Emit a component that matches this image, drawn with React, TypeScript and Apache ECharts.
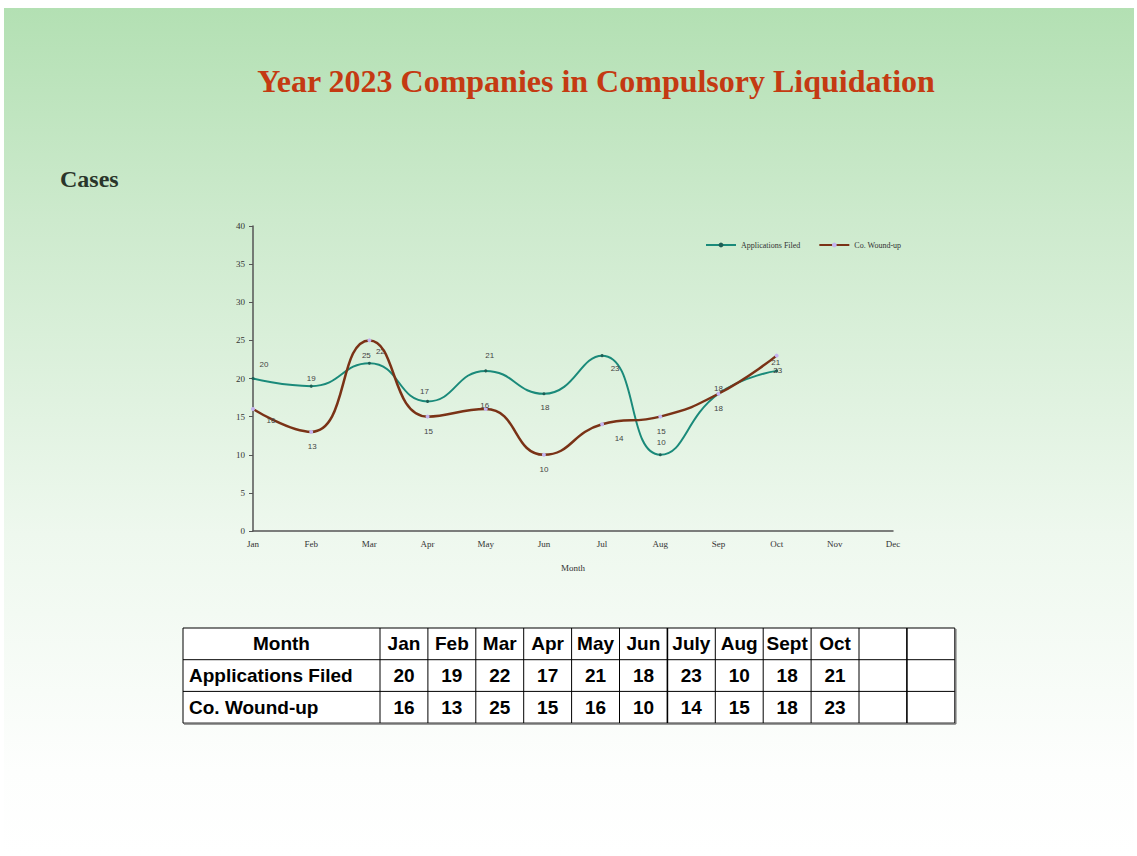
import React, { useEffect, useRef } from "react";
import * as echarts from "echarts";

const axisMonths = ["Jan", "Feb", "Mar", "Apr", "May", "Jun", "Jul", "Aug", "Sep", "Oct", "Nov", "Dec"];
const applicationsFiled = [20, 19, 22, 17, 21, 18, 23, 10, 18, 21];
const coWoundUp = [16, 13, 25, 15, 16, 10, 14, 15, 18, 23];
const tableMonths = ["Jan", "Feb", "Mar", "Apr", "May", "Jun", "July", "Aug", "Sept", "Oct", "", ""];
const yTicks = { min: 0, max: 40, interval: 5 };

// label offsets (styling only)
const appLabelOffsets = [[11, -14], [0, -8], [11, -12], [-3, -10], [4, -15], [1, 14], [13, 13], [1, -12], [0, 15], [-1, -8]];
const woundLabelOffsets = [[18, 11], [1, 15], [-3, 15], [1, 15], [-1, -4], [0, 15], [17, 14], [1, 15], [0, -5], [1, 15]];

const SERIF = "'Liberation Serif', 'Times New Roman', serif";
const SANS = "'Liberation Sans', Arial, sans-serif";

function buildTable() {
  const left = 183;
  const firstW = 197;
  const colW = 47.9;
  const rowTop = 628;
  const rowH = 31.7;
  const rows = [
    { label: "Month", values: tableMonths, header: true },
    { label: "Applications Filed", values: applicationsFiled.map(String), header: false },
    { label: "Co. Wound-up", values: coWoundUp.map(String), header: false },
  ];
  const nCols = tableMonths.length;
  const right = left + firstW + colW * nCols;
  const bottom = rowTop + rowH * rows.length;
  const els: any[] = [];
  els.push({ type: "rect", shape: { x: left, y: rowTop, width: right - left, height: bottom - rowTop }, style: { fill: "#ffffff", stroke: "#000", lineWidth: 1 } });
  for (let r = 1; r < rows.length; r++) {
    const y = rowTop + rowH * r;
    els.push({ type: "line", shape: { x1: left, y1: y, x2: right, y2: y }, style: { stroke: "#000", lineWidth: 1 } });
  }
  for (let c = 0; c < nCols; c++) {
    const x = left + firstW + colW * c;
    els.push({ type: "line", shape: { x1: x, y1: rowTop, x2: x, y2: bottom }, style: { stroke: "#000", lineWidth: c === 6 || c === 11 ? 1.6 : 1 } });
  }
  els.push({ type: "line", shape: { x1: left + 1, y1: bottom + 1, x2: right + 1, y2: bottom + 1 }, style: { stroke: "#777", lineWidth: 1.5 } });
  els.push({ type: "line", shape: { x1: right + 1, y1: rowTop + 1, x2: right + 1, y2: bottom + 1 }, style: { stroke: "#777", lineWidth: 1.5 } });
  rows.forEach((row, r) => {
    const cy = rowTop + rowH * r + rowH / 2;
    els.push({
      type: "text",
      style: {
        text: row.label,
        x: row.header ? left + firstW / 2 : left + 6,
        y: cy,
        textAlign: row.header ? "center" : "left",
        textVerticalAlign: "middle",
        font: `bold 19px ${SANS}`,
        fill: "#000",
      },
    });
    row.values.forEach((v, c) => {
      if (!v) return;
      els.push({
        type: "text",
        style: {
          text: v,
          x: left + firstW + colW * c + colW / 2,
          y: cy,
          textAlign: "center",
          textVerticalAlign: "middle",
          font: `bold 19px ${SANS}`,
          fill: "#000",
        },
      });
    });
  });
  return els;
}

export default function App() {
  const ref = useRef<HTMLDivElement>(null);
  useEffect(() => {
    if (!ref.current) return;
    const chart = echarts.init(ref.current, null, { renderer: "svg" });
    const option: any = {
      animation: false,
      backgroundColor: "#ffffff",
      graphic: [
        {
          type: "rect",
          z: -10,
          silent: true,
          shape: { x: 4, y: 8, width: 1130, height: 848 },
          style: {
            fill: new echarts.graphic.LinearGradient(0, 0, 0, 1, [
              { offset: 0, color: "#b3e0b3" },
              { offset: 0.25, color: "#cdeacd" },
              { offset: 0.62, color: "#eef8ee" },
              { offset: 0.9, color: "#fdfefd" },
              { offset: 1, color: "#ffffff" },
            ]),
          },
        },
        {
          type: "text",
          style: {
            text: "Year 2023 Companies in Compulsory Liquidation",
            x: 596,
            y: 81,
            textAlign: "center",
            textVerticalAlign: "middle",
            font: `bold 32px ${SERIF}`,
            fill: "#c43a12",
          },
        },
        {
          type: "text",
          style: {
            text: "Cases",
            x: 60,
            y: 179,
            textAlign: "left",
            textVerticalAlign: "middle",
            font: `bold 24px ${SERIF}`,
            fill: "#2a352a",
          },
        },
        ...buildTable(),
      ],
      legend: {
        top: 236,
        left: 700,
        itemWidth: 30,
        itemHeight: 6,
        itemGap: 18,
        textStyle: { fontFamily: SERIF, fontSize: 8, color: "#333" },
        data: ["Applications Filed", "Co. Wound-up"],
      },
      grid: { left: 253, top: 226, width: 640, height: 305, containLabel: false },
      xAxis: {
        type: "category",
        data: axisMonths,
        boundaryGap: false,
        name: "Month",
        nameLocation: "middle",
        nameGap: 32,
        nameTextStyle: { fontFamily: SERIF, fontSize: 9, color: "#333" },
        axisLine: { lineStyle: { color: "#555", width: 1.5 } },
        axisTick: { show: false },
        axisLabel: { fontFamily: SERIF, fontSize: 9, color: "#333", margin: 8 },
        splitLine: { show: false },
      },
      yAxis: {
        type: "value",
        min: yTicks.min,
        max: yTicks.max,
        interval: yTicks.interval,
        axisLine: { show: true, lineStyle: { color: "#555", width: 1.5 } },
        axisTick: { show: true, length: 4, lineStyle: { color: "#555" } },
        axisLabel: { fontFamily: SERIF, fontSize: 9, color: "#333", margin: 8 },
        splitLine: { show: false },
      },
      series: [
        {
          name: "Applications Filed",
          type: "line",
          smooth: 0.5,
          data: applicationsFiled.map((v, i) => ({
            value: v,
            label: { position: "inside", offset: appLabelOffsets[i] },
          })),
          symbol: "circle",
          symbolSize: 3,
          lineStyle: { color: "#1a8a7a", width: 2 },
          itemStyle: { color: "#1f5e55" },
          label: { show: true, fontSize: 8, color: "#444", fontFamily: SANS },
          z: 3,
        },
        {
          name: "Co. Wound-up",
          type: "line",
          smooth: 0.5,
          data: coWoundUp.map((v, i) => ({
            value: v,
            label: { position: "inside", offset: woundLabelOffsets[i] },
          })),
          symbol: "circle",
          symbolSize: 4,
          lineStyle: { color: "#7a3216", width: 2.5 },
          itemStyle: { color: "#c4b4f0" },
          label: { show: true, fontSize: 8, color: "#444", fontFamily: SANS },
          z: 4,
        },
      ],
    };
    chart.setOption(option);
    return () => chart.dispose();
  }, []);
  return <div ref={ref} style={{ position: "fixed", left: 0, top: 0, width: 1137, height: 856 }} />;
}
